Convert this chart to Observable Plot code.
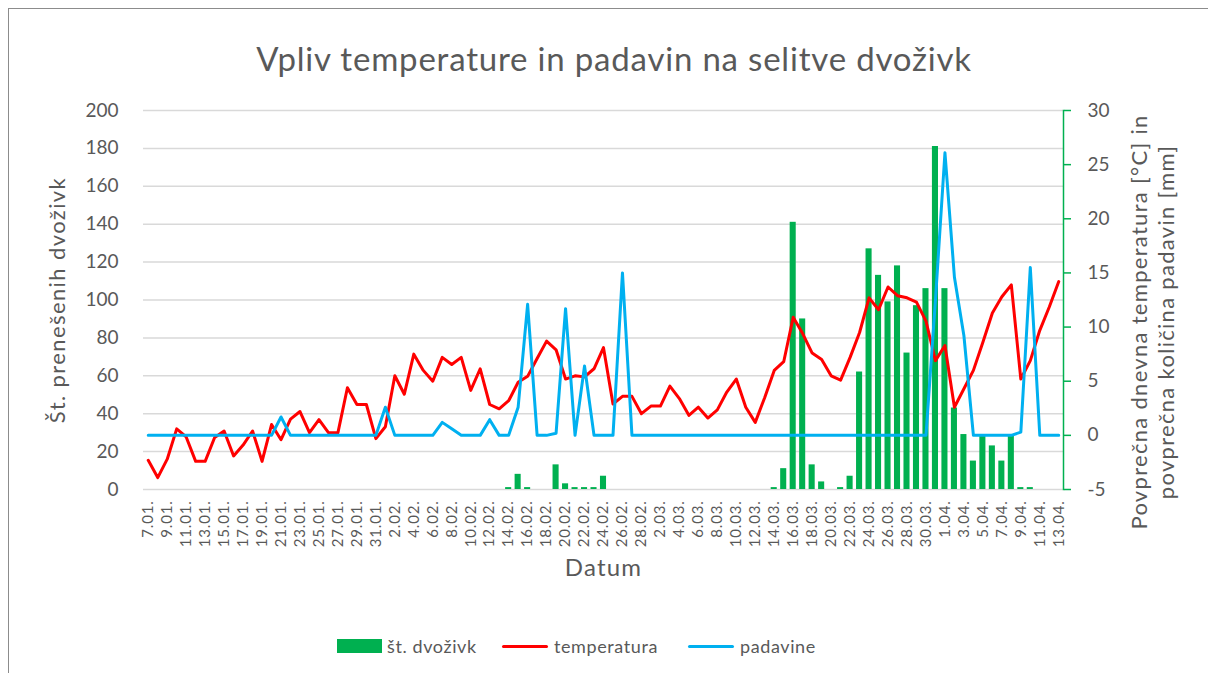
<!DOCTYPE html>
<html>
<head>
<meta charset="utf-8">
<script src="https://cdn.jsdelivr.net/npm/d3@7"></script>
<script src="https://cdn.jsdelivr.net/npm/@observablehq/plot@0.6"></script>
<style>
  html, body { margin: 0; padding: 0; background: #fff; }
  body { padding: 8px; }
  #chart { position: relative; width: 1220px; height: 690px; border: 1px solid #8c8c8c; background: #fff; font-family: Lato, "Open Sans", sans-serif; color: #595959; overflow: hidden; }
  #title { position: absolute; left: 0; top: 30px; width: 1210px; text-align: center; font-size: 33px; line-height: 38px; letter-spacing: 0.8px; color: #595959; }
  #plot { position: absolute; left: 0; top: 81px; }
  #legend { position: absolute; top: 625px; left: 0; width: 1210px; height: 24px; font-size: 18px; color: #595959; }
  .item { position: absolute; top: 0; display: flex; align-items: center; height: 24px; letter-spacing: 0.6px; }
  .sw-bar { width: 45px; height: 14px; background: #00B050; margin-right: 5px; }
  .sw-line { width: 46px; height: 3px; border-radius: 2px; margin-right: 6px; }
</style>
</head>
<body>
<div id="chart">
  <div id="title">Vpliv temperature in padavin na selitve dvoživk</div>
  <div id="plot"></div>
  <div id="legend">
    <div class="item" style="left:328px"><div class="sw-bar"></div>št. dvoživk</div>
    <div class="item" style="left:493px"><div class="sw-line" style="background:#FF0000"></div>temperatura</div>
    <div class="item" style="left:679px"><div class="sw-line" style="background:#00B0F0"></div>padavine</div>
  </div>
</div>
<script>
// Categories (daily dates)
const dates = [
  "7.01.","8.01.","9.01.","10.01.","11.01.","12.01.","13.01.","14.01.","15.01.","16.01.","17.01.","18.01.","19.01.","20.01.","21.01.","22.01.","23.01.","24.01.","25.01.","26.01.","27.01.","28.01.","29.01.","30.01.","31.01.",
  "1.02.","2.02.","3.02.","4.02.","5.02.","6.02.","7.02.","8.02.","9.02.","10.02.","11.02.","12.02.","13.02.","14.02.","15.02.","16.02.","17.02.","18.02.","19.02.","20.02.","21.02.","22.02.","23.02.","24.02.","25.02.","26.02.","27.02.","28.02.",
  "1.03.","2.03.","3.03.","4.03.","5.03.","6.03.","7.03.","8.03.","9.03.","10.03.","11.03.","12.03.","13.03.","14.03.","15.03.","16.03.","17.03.","18.03.","19.03.","20.03.","21.03.","22.03.","23.03.","24.03.","25.03.","26.03.","27.03.","28.03.","29.03.","30.03.","31.03.",
  "1.04.","2.04.","3.04.","4.04.","5.04.","6.04.","7.04.","8.04.","9.04.","10.04.","11.04.","12.04.","13.04."
];

// Number of amphibians carried (left axis)
const dvozivk = [
  0,0,0,0,0,0,0,0,0,0, 0,0,0,0,0,0,0,0,0,0,
  0,0,0,0,0,0,0,0,0,0, 0,0,0,0,0,0,0,0,1,8,
  1,0,0,13,3,1,1,1,7,0, 0,0,0,0,0,0,0,0,0,0,
  0,0,0,0,0,0,1,11,141,90, 13,4,0,1,7,62,127,113,99,118,
  72,97,106,181,106,43,29,15,28,23, 15,28,1,1,0,0,0
];

// Average daily temperature [°C] (right axis)
const temperatura = [
  -2.3,-3.9,-2.2,0.6,-0.15,-2.4,-2.4,-0.2,0.4,-1.9,
  -0.9,0.4,-2.4,1.0,-0.4,1.5,2.2,0.25,1.45,0.25,
  0.25,4.4,2.85,2.85,-0.3,0.8,5.5,3.8,7.5,6.0,
  5.0,7.2,6.55,7.2,4.15,6.15,2.85,2.45,3.2,4.9,
  5.45,7.1,8.7,7.9,5.2,5.5,5.4,6.15,8.1,2.9,
  3.6,3.6,2.0,2.7,2.7,4.55,3.4,1.85,2.6,1.6,
  2.35,4.0,5.2,2.6,1.2,3.5,6.0,6.8,10.9,9.4,
  7.6,7.0,5.5,5.1,7.2,9.5,12.7,11.6,13.7,12.9,
  12.7,12.3,10.55,6.9,8.3,2.6,4.3,6.0,8.6,11.3,
  12.8,13.9,5.2,6.9,9.7,11.85,14.2
];

// Average precipitation [mm] (right axis)
const padavine = [
  0,0,0,0,0,0,0,0,0,0, 0,0,0,0,1.7,0,0,0,0,0,
  0,0,0,0,0,2.6,0,0,0,0, 0,1.2,0.6,0,0,0,1.45,0,0,2.6,
  12.1,0,0,0.2,11.7,0,6.4,0,0,0, 15.0,0,0,0,0,0,0,0,0,0,
  0,0,0,0,0,0,0,0,0,0, 0,0,0,0,0,0,0,0,0,0,
  0,0,0,12.5,26.1,14.6,9.2,0,0,0, 0,0,0.3,15.5,0,0,0
];

const leftTicks = [0,20,40,60,80,100,120,140,160,180,200];
const rightTicks = [-5,0,5,10,15,20,25,30];
const xTicks = dates.filter((d, i) => i % 2 === 0);

// Map right-axis values (-5..30) onto the left scale (0..200)
const toLeft = v => (v + 5) * 200 / 35;
const fromLeft = y => y * 35 / 200 - 5;

const rows = dates.map((d, i) => ({date: d, count: dvozivk[i], temp: temperatura[i], rain: padavine[i]}));

const yTitle = "Št. prenešenih dvoživk";
const xTitle = "Datum";
const y2Title = "Povprečna dnevna temperatura [°C] in\npovprečna količina padavin [mm]";

const txt = "#595959";
const chart = Plot.plot({
  width: 1200,
  height: 510,
  marginLeft: 134,
  marginRight: 146,
  marginTop: 20,
  marginBottom: 111,
  style: {fontFamily: "Lato, 'Open Sans', sans-serif", color: txt, background: "transparent", overflow: "visible"},
  x: {domain: dates, paddingInner: 0.36, paddingOuter: 0.18, axis: null},
  y: {domain: [0, 200], axis: null},
  marks: [
    Plot.gridY(leftTicks, {stroke: "#d9d9d9", strokeOpacity: 1, strokeWidth: 1.5}),
    Plot.axisY(leftTicks, {anchor: "left", tickSize: 0, tickPadding: 25, fontSize: 19, fill: txt, label: null}),
    Plot.axisY(rightTicks.map(toLeft), {anchor: "right", tickSize: 7, tickPadding: 17, fontSize: 19, stroke: "#00B050", strokeWidth: 1.5, fill: txt, label: null, tickFormat: v => String(Math.round(fromLeft(v)))}),
    Plot.frame({anchor: "right", stroke: "#00B050", strokeWidth: 1.5}),
    Plot.axisX(xTicks, {anchor: "bottom", tickSize: 0, tickPadding: 11, tickRotate: -90, fontSize: 15, fill: txt, label: null}),
    Plot.barY(rows, {x: "date", y: "count", fill: "#00B050"}),
    Plot.lineY(rows, {x: "date", y: d => toLeft(d.temp), stroke: "#FF0000", strokeWidth: 3, strokeLinejoin: "round"}),
    Plot.lineY(rows, {x: "date", y: d => toLeft(d.rain), stroke: "#00B0F0", strokeWidth: 3, strokeLinejoin: "round"}),
    Plot.text([yTitle], {frameAnchor: "left", textAnchor: "middle", dx: -86, rotate: -90, fontSize: 22, fill: txt}),
    Plot.text([xTitle], {frameAnchor: "bottom", textAnchor: "middle", dy: 86, fontSize: 24, fill: txt}),
    Plot.text([y2Title], {frameAnchor: "right", textAnchor: "middle", dx: 88, dy: 22, rotate: -90, fontSize: 22, lineHeight: 1.25, fill: txt})
  ]
});
// Excel-like wider letter spacing on the axis titles and date labels
const spacing = new Map([[yTitle, "1.4px"], [xTitle, "1.2px"], [y2Title.replace("\n", ""), "1.3px"]]);
chart.querySelectorAll("text").forEach(t => {
  const s = spacing.get(t.textContent);
  if (s) t.setAttribute("letter-spacing", s);
  else if (xTicks.includes(t.textContent)) t.setAttribute("letter-spacing", "0.8px");
});
document.getElementById("plot").appendChild(chart);
</script>
</body>
</html>
